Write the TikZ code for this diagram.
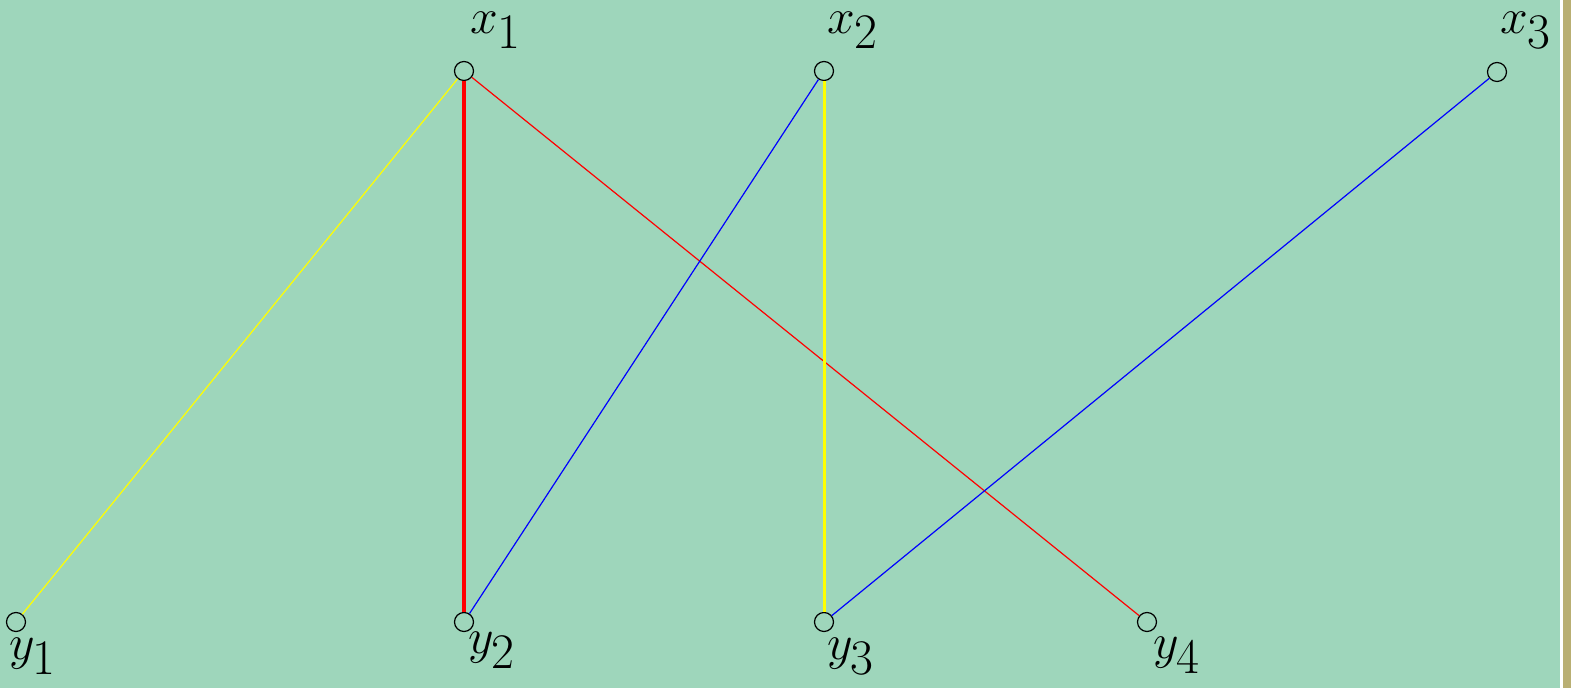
\documentclass[tikz,border=0pt]{standalone}
\begin{document}
\begin{tikzpicture}[x=0.5pt,y=-0.5pt,
  vtx/.style={circle,draw=black,line width=0.6pt,minimum size=9.5pt,inner sep=0pt},
  lbl/.style={font=\fontsize{33}{38}\selectfont,inner sep=0pt},
  thinedge/.style={line width=0.6pt},
  thickedge/.style={line width=1.6pt}]
\definecolor{bg}{RGB}{158,214,187}
\definecolor{strip}{RGB}{185,175,115}
\definecolor{ylw}{RGB}{255,255,0}
\fill[bg] (0,0) rectangle (1571,688);
\fill[white] (1560,0) rectangle (1563,688);
\fill[strip] (1563,0) rectangle (1571,688);
\useasboundingbox (0,0) rectangle (1571,688);
\node[vtx] (x1) at (464,71) {};
\node[vtx] (x2) at (824,71) {};
\node[vtx] (x3) at (1497,72) {};
\node[vtx] (y1) at (16,622) {};
\node[vtx] (y2) at (464,622) {};
\node[vtx] (y3) at (824,622) {};
\node[vtx] (y4) at (1147,622) {};
\node[lbl] (lx1) at (496,30) {$x_1$};
\node[lbl] (lx2) at (853,30) {$x_2$};
\node[lbl] (lx3) at (1526,30) {$x_3$};
\node[lbl] (ly1) at (33,656) {$y_1$};
\node[lbl] (ly2) at (492,650) {$y_2$};
\node[lbl] (ly3) at (851,656) {$y_3$};
\node[lbl] (ly4) at (1177,655) {$y_4$};
\draw[thinedge,ylw] (x1) -- (y1);
\draw[thickedge,red] (x1) -- (y2);
\draw[thinedge,red] (x1) -- (y4);
\draw[thinedge,blue] (x2) -- (y2);
\draw[line width=1.5pt,ylw] (x2) -- (y3);
\draw[thinedge,blue] (x3) -- (y3);
\end{tikzpicture}
\end{document}
